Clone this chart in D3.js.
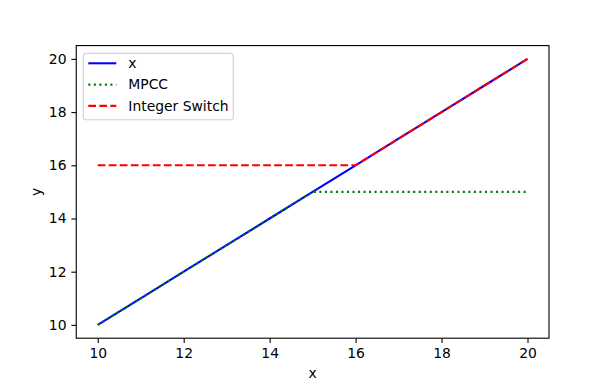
<!DOCTYPE html>
<html>
<head>
<meta charset="utf-8">
<script src="https://cdn.jsdelivr.net/npm/d3@7"></script>
<style>
  body { margin: 0; background: #fff; }
  text { font-family: "DejaVu Sans", sans-serif; fill: #000; }
</style>
</head>
<body>
<div id="chart"></div>
<script>
// Data
const xValues = [10, 11, 12, 13, 14, 15, 16, 17, 18, 19, 20]
const mpccValues = [10, 11, 12, 13, 14, 15, 15, 15, 15, 15, 15]
const switchValues = [16, 16, 16, 16, 16, 16, 16, 17, 18, 19, 20]
const xTicks = [10, 12, 14, 16, 18, 20]
const yTicks = [10, 12, 14, 16, 18, 20]

const series = [
  { name: "x", values: xValues, color: "blue", dash: null },
  { name: "MPCC", values: mpccValues, color: "green", dash: "2.08,3.44" },
  { name: "Integer Switch", values: switchValues, color: "red", dash: "7.7,3.33" }
]

// Dimensions
const width = 610
const height = 380
const margin = { left: 76.25, right: 61, top: 45.6, bottom: 41.8 }
const ctrWidth = width - margin.left - margin.right
const ctrHeight = height - margin.top - margin.bottom

const svg = d3.select("#chart")
  .append("svg")
  .attr("width", width)
  .attr("height", height)

const ctr = svg.append("g")
  .attr("transform", `translate(${margin.left}, ${margin.top})`)

const xScale = d3.scaleLinear()
  .domain([9.5, 20.5])
  .range([0, ctrWidth])

const yScale = d3.scaleLinear()
  .domain([9.5, 20.5])
  .range([ctrHeight, 0])

// Lines
const line = d3.line()
  .x((d, i) => xScale(xValues[i]))
  .y(d => yScale(d))

ctr.selectAll("path.series")
  .data(series)
  .join("path")
  .classed("series", true)
  .attr("d", d => line(d.values))
  .attr("fill", "none")
  .attr("stroke", d => d.color)
  .attr("stroke-width", 2.08)
  .attr("stroke-dasharray", d => d.dash)

// Axes
const xAxis = d3.axisBottom(xScale).tickValues(xTicks).tickSize(4.86).tickPadding(4.86)
const yAxis = d3.axisLeft(yScale).tickValues(yTicks).tickSize(4.86).tickPadding(4.86)

const xAxisGroup = ctr.append("g")
  .attr("transform", `translate(0, ${ctrHeight})`)
  .call(xAxis)
const yAxisGroup = ctr.append("g").call(yAxis)

for (const g of [xAxisGroup, yAxisGroup]) {
  g.select(".domain").remove()
  g.selectAll("line").attr("stroke", "#000").attr("stroke-width", 1.1)
  g.selectAll("text")
    .style("font-family", "DejaVu Sans")
    .style("font-size", "13.9px")
    .attr("fill", "#000")
}

// Frame
ctr.append("rect")
  .attr("width", ctrWidth)
  .attr("height", ctrHeight)
  .attr("fill", "none")
  .attr("stroke", "#000")
  .attr("stroke-width", 1.1)

// Axis labels
svg.append("text")
  .attr("x", margin.left + ctrWidth / 2)
  .attr("y", 378)
  .attr("text-anchor", "middle")
  .style("font-size", "13.9px")
  .text("x")

svg.append("text")
  .attr("transform", `translate(41, ${margin.top + ctrHeight / 2}) rotate(-90)`)
  .attr("text-anchor", "middle")
  .style("font-size", "13.9px")
  .text("y")

// Legend
const legend = svg.append("g")
  .attr("transform", "translate(83.3, 53.3)")

legend.append("rect")
  .attr("width", 150)
  .attr("height", 66.5)
  .attr("rx", 2.8)
  .attr("fill", "#fff")
  .attr("fill-opacity", 0.8)
  .attr("stroke", "#cccccc")
  .attr("stroke-width", 1)

const rows = legend.selectAll("g.row")
  .data(series)
  .join("g")
  .classed("row", true)
  .attr("transform", (d, i) => `translate(0, ${10 + i * 21.3})`)

rows.append("line")
  .attr("x1", 5)
  .attr("x2", 33)
  .attr("stroke", d => d.color)
  .attr("stroke-width", 2.08)
  .attr("stroke-dasharray", d => d.dash)

rows.append("text")
  .attr("x", 45)
  .attr("dy", "0.35em")
  .style("font-size", "13.9px")
  .text(d => d.name)
</script>
</body>
</html>
